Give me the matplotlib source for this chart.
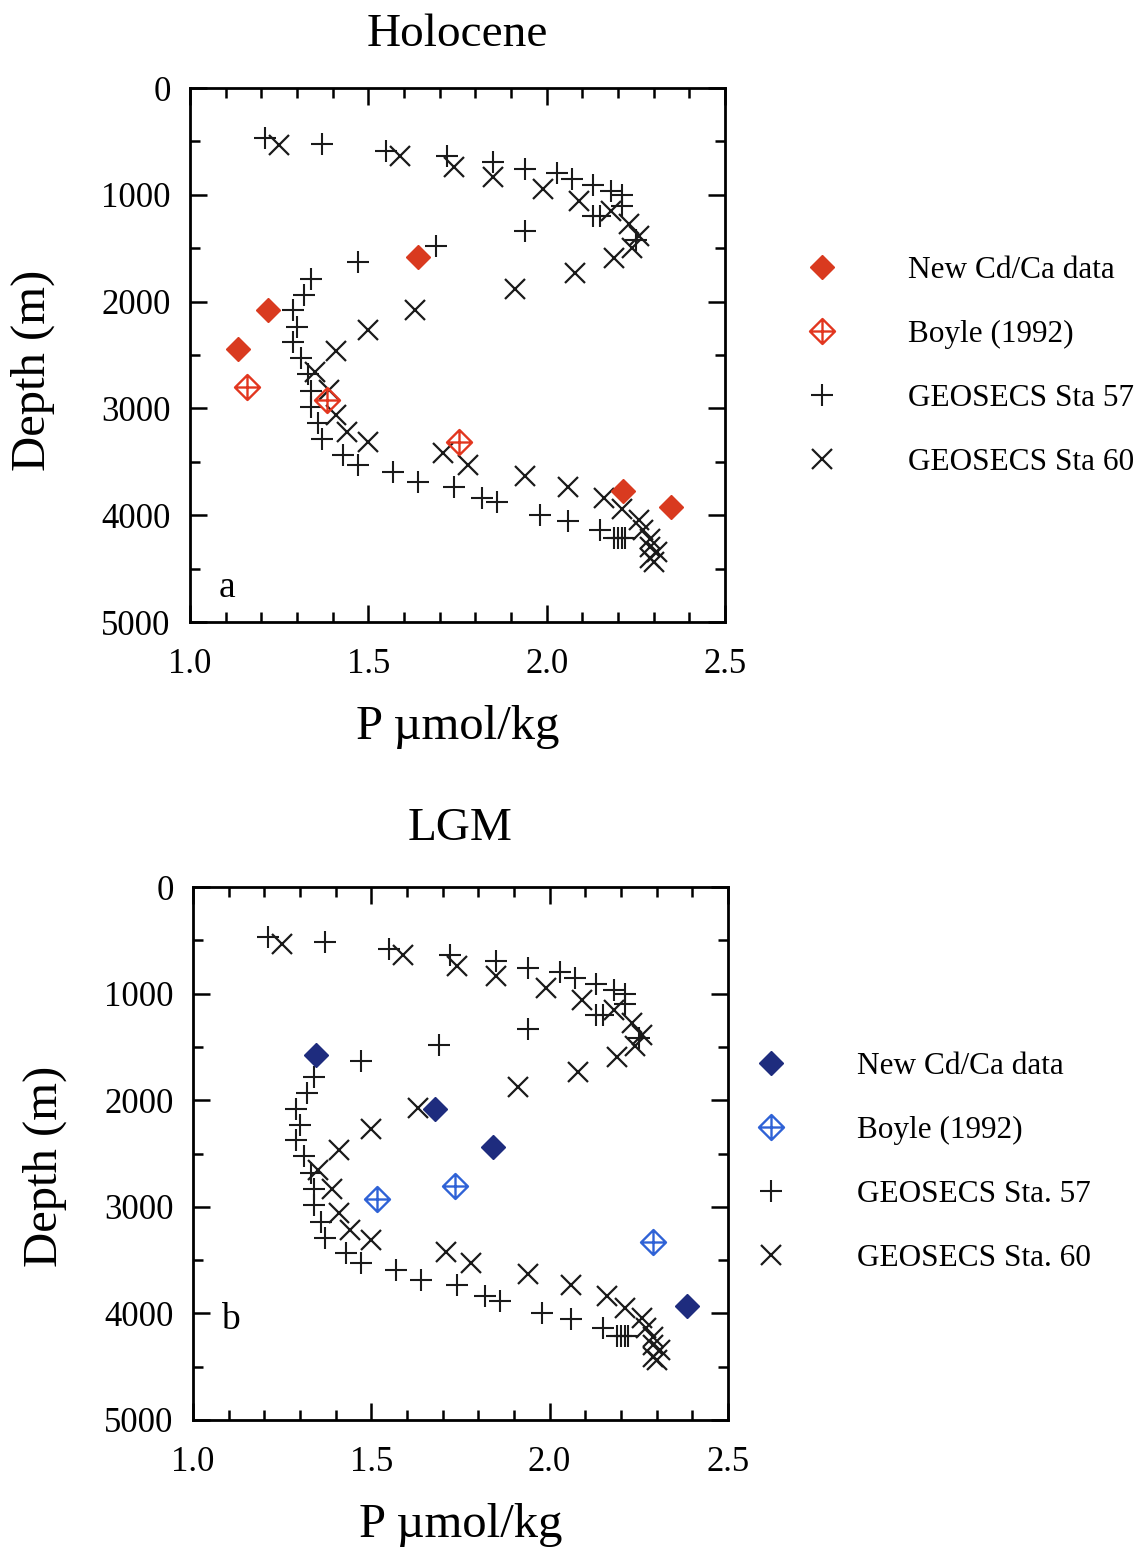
import matplotlib
matplotlib.use("Agg")
import matplotlib.pyplot as plt
from matplotlib.path import Path
from matplotlib.ticker import MultipleLocator, FormatStrFormatter

plt.rcParams['font.family'] = ['Liberation Serif', 'DejaVu Serif']

# GEOSECS stations (same in both panels)
sta57_p = [1.21, 1.37, 1.55, 1.72, 1.85, 1.94, 2.03, 2.07, 2.13, 2.18, 2.21, 2.21,
           2.13, 2.15, 2.25, 1.94, 1.69, 1.47, 1.34, 1.32, 1.29, 1.30, 1.29, 1.31,
           1.33, 1.34, 1.34, 1.36, 1.37, 1.43, 1.47, 1.57, 1.64, 1.74, 1.82, 1.86,
           1.98, 2.06, 2.15, 2.19, 2.20, 2.21, 2.22]
sta57_d = [470, 520, 585, 640, 690, 755, 800, 855, 905, 965, 1005, 1100,
           1200, 1200, 1420, 1335, 1480, 1630, 1785, 1935, 2080, 2235, 2375, 2525,
           2680, 2835, 2985, 3140, 3290, 3435, 3530, 3595, 3685, 3735, 3835, 3880,
           4000, 4055, 4140, 4210, 4210, 4210, 4210]

sta60_p = [1.25, 1.59, 1.74, 1.85, 1.99, 2.09, 2.18, 2.23, 2.26, 2.24, 2.19, 2.08,
           1.91, 1.63, 1.50, 1.41, 1.35, 1.39, 1.41, 1.44, 1.50, 1.71, 1.78, 1.94,
           2.06, 2.16, 2.21, 2.26, 2.27, 2.29, 2.29, 2.31, 2.29, 2.30]
sta60_d = [535, 635, 740, 835, 945, 1055, 1150, 1275, 1385, 1495, 1590, 1735,
           1880, 2075, 2270, 2465, 2655, 2830, 3060, 3220, 3310, 3420, 3530, 3630,
           3735, 3835, 3945, 4045, 4140, 4220, 4295, 4345, 4405, 4440]

# Holocene
holo_new_p = [1.64, 1.22, 1.135, 2.215, 2.35]
holo_new_d = [1580, 2075, 2445, 3775, 3925]
holo_boyle_p = [1.16, 1.385, 1.755]
holo_boyle_d = [2800, 2925, 3315]

# LGM
lgm_new_p = [1.346, 1.68, 1.842, 2.386]
lgm_new_d = [1575, 2080, 2443, 3930]
lgm_boyle_p = [1.517, 1.736, 2.29]
lgm_boyle_d = [2928, 2803, 3328]

# diamond with a cross inside
boyle_marker = Path([(0, 1), (1, 0), (0, -1), (-1, 0), (0, 1),
                     (0, 1), (0, -1), (-1, 0), (1, 0)],
                    [Path.MOVETO, Path.LINETO, Path.LINETO, Path.LINETO, Path.CLOSEPOLY,
                     Path.MOVETO, Path.LINETO, Path.MOVETO, Path.LINETO])

fig = plt.figure(figsize=(11.48, 15.47), dpi=100)
ax1 = fig.add_axes([0.1655, 0.5979, 0.466, 0.3452])
ax2 = fig.add_axes([0.1681, 0.0821, 0.466, 0.3445])


def draw_panel(ax, title, new_p, new_d, boyle_p, boyle_d, c_new, c_boyle, labels,
               letter, letter_d, leg_anchor, title_pad, ylab_xy):
    h1, = ax.plot(new_p, new_d, 'D', ms=12.5, color=c_new, mec=c_new, ls='none', zorder=4)
    h2, = ax.plot(boyle_p, boyle_d, marker=boyle_marker, ms=18, mfc='none', mec=c_boyle,
                  mew=1.7, ls='none', zorder=4)
    h3, = ax.plot(sta57_p, sta57_d, '+', ms=16, mew=1.5, color='#1a1a1a', ls='none', zorder=3)
    h4, = ax.plot(sta60_p, sta60_d, 'x', ms=14, mew=1.6, color='#1a1a1a', ls='none', zorder=3)

    ax.set_xlim(1.0, 2.5)
    ax.set_ylim(5000, 0)
    ax.xaxis.set_major_locator(MultipleLocator(0.5))
    ax.xaxis.set_minor_locator(MultipleLocator(0.1))
    ax.yaxis.set_major_locator(MultipleLocator(1000))
    ax.yaxis.set_minor_locator(MultipleLocator(500))
    ax.xaxis.set_major_formatter(FormatStrFormatter('%.1f'))
    ax.tick_params(which='both', direction='in', top=True, right=True, width=1.8)
    ax.tick_params(which='major', length=12)
    ax.tick_params(which='minor', length=7)
    ax.tick_params(axis='x', which='major', labelsize=25, pad=19)
    ax.tick_params(axis='y', which='major', labelsize=25, pad=14)
    for s in ax.spines.values():
        s.set_linewidth(2.0)

    ax.set_xlabel('P µmol/kg', fontsize=35, labelpad=17)
    ax.set_ylabel('Depth (m)', fontsize=35)
    ax.yaxis.set_label_coords(*ylab_xy)
    ax.set_title(title, fontsize=34, pad=title_pad)
    ax.text(1.08, letter_d, letter, fontsize=27, va='center', ha='left')

    ax.legend([h1, h2, h3, h4], labels, loc='upper left', bbox_to_anchor=leg_anchor,
              bbox_transform=fig.transFigure, frameon=False, fontsize=22.5,
              handlelength=2.0, handletextpad=1.75, labelspacing=1.12, borderpad=0)


draw_panel(ax1, 'Holocene', holo_new_p, holo_new_d, holo_boyle_p, holo_boyle_d,
           '#d93a1f', '#e2361f',
           ['New Cd/Ca data', 'Boyle (1992)', 'GEOSECS Sta 57', 'GEOSECS Sta 60'],
           'a', 4680, (0.675, 1 - 240 / 1547), 30, (-0.252, 0.472))
draw_panel(ax2, 'LGM', lgm_new_p, lgm_new_d, lgm_boyle_p, lgm_boyle_d,
           '#1e2c7e', '#2f62d6',
           ['New Cd/Ca data', 'Boyle (1992)', 'GEOSECS Sta. 57', 'GEOSECS Sta. 60'],
           'b', 4060, (0.631, 1 - 1036 / 1547), 34, (-0.2355, 0.475))

fig.savefig('out.png', dpi=100)
